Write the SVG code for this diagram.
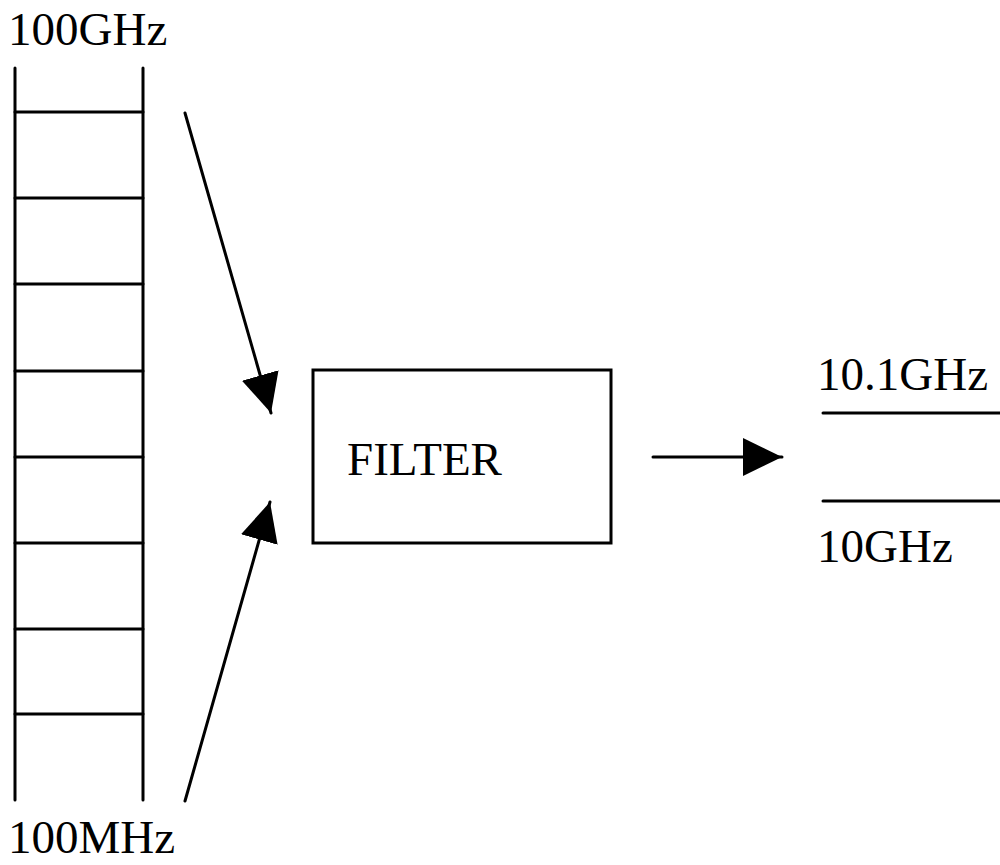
<svg xmlns="http://www.w3.org/2000/svg" width="1000" height="865" viewBox="0 0 1000 865">
<style>
.ln{stroke:#000;stroke-width:3;fill:none;stroke-linecap:round}
.tx{font-family:"Liberation Serif","Times New Roman",serif;font-size:47px;fill:#000}
</style>
<defs>
<marker id="ah" markerUnits="userSpaceOnUse" markerWidth="44" markerHeight="44" viewBox="0 -22 44 44" refX="39" refY="0" orient="auto">
<path d="M0,-19 L39,0 L0,19 z" fill="#000"/>
</marker>
</defs>
<rect width="1000" height="865" fill="#fff"/>
<g id="ladder">
<line class="ln" x1="15" y1="68" x2="15" y2="800"/>
<line class="ln" x1="143" y1="68" x2="143" y2="800"/>
<line class="ln" x1="15" y1="112" x2="143" y2="112"/>
<line class="ln" x1="15" y1="198" x2="143" y2="198"/>
<line class="ln" x1="15" y1="284" x2="143" y2="284"/>
<line class="ln" x1="15" y1="371" x2="143" y2="371"/>
<line class="ln" x1="15" y1="457" x2="143" y2="457"/>
<line class="ln" x1="15" y1="543" x2="143" y2="543"/>
<line class="ln" x1="15" y1="629" x2="143" y2="629"/>
<line class="ln" x1="15" y1="714" x2="143" y2="714"/>
<text class="tx" x="8" y="45">100GHz</text>
<text class="tx" x="8" y="853">100MHz</text>
</g>
<g id="filter">
<rect x="313" y="370" width="298" height="173" fill="none" stroke="#000" stroke-width="3"/>
<text class="tx" x="347" y="475">FILTER</text>
</g>
<g id="output">
<line class="ln" x1="823" y1="413" x2="1000" y2="413"/>
<line class="ln" x1="823" y1="501" x2="1000" y2="501"/>
<text class="tx" x="817" y="390">10.1GHz</text>
<text class="tx" x="817" y="562">10GHz</text>
</g>
<g id="connectors">
<line class="ln" x1="185" y1="113" x2="271" y2="413" marker-end="url(#ah)"/>
<line class="ln" x1="185" y1="801" x2="270" y2="502" marker-end="url(#ah)"/>
<line class="ln" x1="653" y1="457" x2="782" y2="457" marker-end="url(#ah)"/>
</g>
</svg>
